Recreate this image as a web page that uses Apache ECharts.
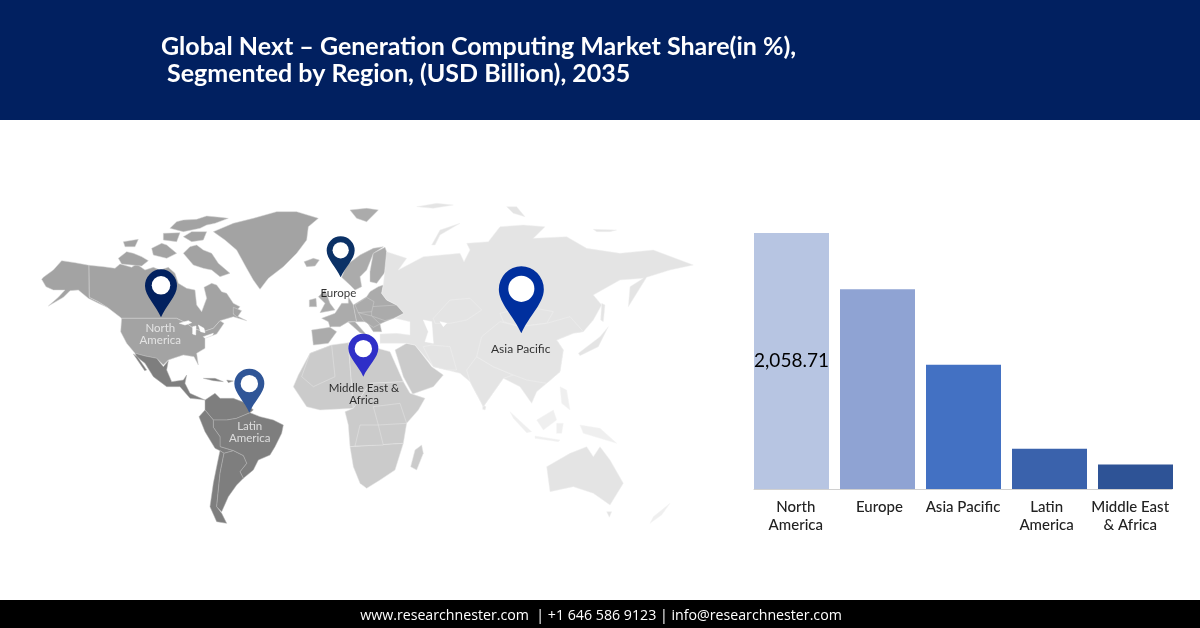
<!DOCTYPE html>
<html>
<head>
<meta charset="utf-8">
<title>Next Generation Computing Market</title>
<style>
    html, body {margin: 0; padding: 0; background: #fff;}
    #main {width: 1200px; height: 628px;}
</style>
<script src="https://cdn.jsdelivr.net/npm/echarts@6/dist/echarts.min.js"></script>
</head>
<body>
<div id="main"></div>
<script>
// bar chart data
const categories = ['North\nAmerica', 'Europe', 'Asia Pacific', 'Latin\nAmerica', 'Middle East\n& Africa'];
const marketValues = [2058.71, 1606, 1000, 324, 198];
const barColors = ['#B7C5E2', '#8FA3D3', '#4371C3', '#3A62AC', '#2E5396'];

// map markers, in the same units as the outlines below
const pinNames = ['North America', 'Europe', 'Asia Pacific', 'Latin America', 'Middle East & Africa'];
const pinTips = [[423, 382], [962, 262], [1504, 430], [688, 668], [1030, 560]];
const pinSizes = [[32, 48], [28, 41], [45, 67], [30, 44], [30, 43]];
const pinColors = ['#02215F', '#0B3166', '#002F9E', '#2F5597', '#2F2FC8'];
const mapLabels = ['North\nAmerica', 'Europe', 'Asia Pacific', 'Latin\nAmerica', 'Middle East &\nAfrica'];
const mapLabelSpots = [[421, 432], [955, 310], [1502, 477], [689, 727], [1032, 612]];
const mapLabelColors = ['#f4f4f4', '#000', '#000', '#f4f4f4', '#000'];
const mapLabelSizes = [11.5, 11.5, 12, 11.5, 11.5];

// hand traced outlines, 3 units = 1px, origin at (20,190) of the page
const northAmericaShapes = [
    [[70,262],[100,240],[125,212],[165,218],[207,226],[208,322],[235,335],[262,352],[240,342],[205,325],[175,300],[150,302],[130,322],[85,348],[115,322],[135,300],[100,300],[78,290],[65,268]],
    [[207,226],[250,230],[285,235],[300,222],[335,232],[350,222],[375,240],[400,232],[420,240],[445,232],[465,250],[475,280],[500,295],[525,300],[530,345],[545,365],[560,325],[552,292],[575,280],[590,285],[605,305],[620,310],[640,340],[660,350],[640,372],[680,392],[655,385],[640,380],[600,392],[580,415],[550,425],[520,415],[500,400],[470,385],[305,385],[262,352],[235,335],[208,322]],
    [[305,385],[470,385],[500,400],[520,415],[550,425],[580,415],[600,392],[612,400],[590,432],[555,445],[555,475],[530,490],[535,525],[522,500],[490,495],[465,503],[445,510],[430,525],[410,505],[375,498],[345,490],[320,460],[302,425]],
    [[450,115],[470,95],[490,90],[530,88],[560,78],[600,82],[625,85],[585,100],[560,105],[540,115],[490,125]],
    [[490,190],[510,170],[530,165],[550,180],[575,190],[595,220],[630,250],[600,260],[575,240],[550,235],[520,225]],
    [[395,175],[425,160],[440,165],[470,190],[440,205],[400,195]],
    [[310,155],[355,148],[345,170],[315,170]],
    [[295,205],[320,185],[340,190],[365,200],[385,212],[365,228],[305,222]],
    [[430,130],[480,128],[470,155],[430,150]],
    [[490,140],[515,125],[560,125],[550,150],[515,155]],
    [[640,352],[665,362],[652,382],[640,372]],
    [[580,125],[640,100],[700,85],[770,65],[830,65],[895,85],[865,110],[860,150],[830,190],[790,230],[745,265],[720,298],[700,270],[680,235],[650,180],[615,150]]
];
const latinAmericaShapes = [
    [[345,490],[375,498],[410,505],[430,530],[445,512],[440,540],[455,575],[490,570],[500,555],[495,580],[510,610],[555,630],[540,628],[510,625],[480,590],[440,590],[400,560],[375,520],[350,500]],
    [[340,492],[352,500],[380,540],[374,542]],
    [[550,565],[585,565],[610,575],[580,572]],
    [[620,570],[640,573],[625,578]],
    [[555,630],[585,610],[600,625],[640,625],[680,640],[700,660],[690,668],[650,685],[620,690],[580,690],[555,660]],
    [[620,690],[650,685],[690,668],[720,680],[760,690],[790,705],[785,730],[765,770],[750,795],[715,810],[700,840],[670,865],[660,845],[680,820],[670,797],[640,782],[600,770],[600,740],[580,712],[580,690]],
    [[537,680],[555,660],[580,690],[580,712],[600,740],[600,770],[640,782],[612,790],[600,782],[585,775],[555,725]],
    [[600,782],[612,790],[600,850],[590,950],[605,970],[620,1000],[590,995],[570,950],[580,880],[590,830]],
    [[612,790],[640,782],[670,797],[680,820],[660,845],[670,865],[650,885],[625,920],[605,965],[590,950],[600,850]]
];
const europeShapes = [
    [[965,262],[980,225],[1020,195],[1060,175],[1090,170],[1060,190],[1050,215],[1040,240],[1020,260],[1025,290],[1005,300],[990,285]],
    [[1060,190],[1095,172],[1105,200],[1100,240],[1070,280],[1050,275],[1050,245]],
    [[895,320],[915,300],[930,340],[945,360],[900,368],[915,340]],
    [[868,330],[888,325],[890,350],[868,350]],
    [[852,215],[880,205],[898,210],[885,228],[860,230]],
    [[875,420],[930,412],[950,425],[925,460],[880,465]],
    [[905,385],[945,370],[965,340],[985,340],[985,320],[1000,345],[1010,395],[985,395],[960,410],[935,410],[930,412],[925,395]],
    [[1000,345],[1040,320],[1050,305],[1075,290],[1090,285],[1085,310],[1100,330],[1130,345],[1152,370],[1120,385],[1095,395],[1080,402],[1085,425],[1060,425],[1040,395],[1010,395]],
    [[985,397],[1005,395],[1040,435],[1020,428]],
    [[990,60],[1040,55],[1075,60],[1040,95],[1010,85]],
    // country borders on top of the mainland
    [[1055,350],[1130,345],[1152,370],[1120,385],[1095,392],[1055,378]],
    [[1005,345],[1040,322],[1062,335],[1055,365],[1015,368]],
    [[1015,368],[1055,378],[1080,402],[1060,412],[1030,392]]
];
const africaShapes = [
    [[820,590],[835,555],[870,490],[935,465],[985,458],[1000,655],[900,660],[860,650]],
    [[985,458],[1055,470],[1110,485],[1130,530],[1150,575],[1050,580],[1000,655]],
    [[1000,655],[1050,580],[1150,575],[1170,610],[1215,625],[1195,660],[1160,700],[1150,760],[990,770],[985,705],[975,665]],
    [[990,770],[1150,760],[1125,840],[1080,870],[1040,895],[1020,880],[1000,830]],
    [[1205,765],[1210,790],[1190,840],[1172,830],[1185,780]],
    [[1125,480],[1160,460],[1185,465],[1235,530],[1270,555],[1240,590],[1178,612],[1150,560]],
    // country borders on top of the mainland
    [[870,490],[935,465],[945,560],[880,590],[845,560]],
    [[1060,650],[1140,640],[1160,700],[1075,705]],
    [[1020,705],[1075,705],[1090,765],[1005,768]]
];
const asiaShapes = [
    [[1100,185],[1160,205],[1135,240],[1210,200],[1320,190],[1332,215],[1350,180],[1340,160],[1405,155],[1440,110],[1510,105],[1575,110],[1540,145],[1640,140],[1700,175],[1800,190],[1900,180],[2020,225],[1950,240],[1880,262],[1825,350],[1830,290],[1870,265],[1800,270],[1720,315],[1745,345],[1720,390],[1690,425],[1660,430],[1610,450],[1630,480],[1620,545],[1580,580],[1550,605],[1535,640],[1500,590],[1450,565],[1390,650],[1350,575],[1320,550],[1280,540],[1240,530],[1185,465],[1160,460],[1080,460],[1080,432],[1130,430],[1170,435],[1170,395],[1125,385],[1152,370],[1130,345],[1100,330],[1085,310],[1090,285]],
    [[1675,490],[1740,440],[1765,410],[1735,470],[1680,497]],
    [[1745,340],[1755,345],[1750,395],[1742,390]],
    [[1388,645],[1398,650],[1395,660],[1388,658]],
    [[1235,165],[1260,120],[1320,100],[1260,135],[1245,165]],
    [[1190,50],[1250,40],[1300,45],[1240,55]],
    [[1460,50],[1490,50],[1515,80],[1480,70]],
    [[1720,118],[1790,120],[1770,125],[1730,125]],
    [[1580,830],[1650,790],[1700,770],[1720,800],[1740,770],[1770,810],[1810,880],[1770,945],[1720,910],[1660,890],[1590,905]],
    [[1760,965],[1775,965],[1768,982]],
    // country borders on top of the mainland
    [[1240,385],[1290,330],[1350,325],[1385,360],[1340,390],[1290,400],[1245,400]],
    [[1440,370],[1520,350],[1600,365],[1580,400],[1500,410],[1450,395]],
    [[1340,540],[1370,500],[1420,530],[1480,555],[1450,565],[1390,650],[1350,575]],
    [[1235,465],[1290,470],[1310,540],[1280,540],[1240,530],[1210,470]],
    [[1385,440],[1440,395],[1500,410],[1580,400],[1650,380],[1690,425],[1660,430],[1610,450],[1630,480],[1620,545],[1580,580],[1520,570],[1480,555],[1420,530],[1370,500]]
];
const islandShapes = [
    [[1470,665],[1535,725],[1520,728],[1480,685]],
    [[1550,690],[1600,660],[1610,690],[1570,720]],
    [[1545,738],[1620,750],[1615,755],[1545,745]],
    [[1620,590],[1640,600],[1650,660],[1625,640]],
    [[1610,700],[1630,700],[1625,730],[1610,730]],
    [[1680,705],[1740,715],[1790,760],[1740,745],[1690,730]],
    [[1950,940],[1925,975],[1890,1000],[1900,980]]
];
const waterShapes = [
    [[478,400],[505,392],[515,398],[495,405]],
    [[518,410],[528,408],[527,435],[518,432]],
    [[535,405],[552,415],[555,428],[542,425]],
    [[550,440],[580,430],[578,435],[555,445]],
    [[1210,390],[1235,395],[1240,460],[1215,455],[1225,425]],
    [[1260,395],[1280,400],[1270,410]]
];

const shapeGroups = [
    {shapes: northAmericaShapes, color: '#A3A3A3', border: '#d4d4d4'},
    {shapes: latinAmericaShapes, color: '#7E7E7E', border: '#b5b5b5'},
    {shapes: europeShapes, color: '#ABABAB', border: '#d0d0d0'},
    {shapes: africaShapes, color: '#CBCBCB', border: '#e6e6e6'},
    {shapes: asiaShapes, color: '#E4E4E4', border: '#f0f0f0'},
    {shapes: islandShapes, color: '#EFEFEF', border: '#f5f5f5'},
    {shapes: waterShapes, color: '#fff', border: '#fff'}
];

let features = [];
let regions = [];
let minX = Infinity, minY = Infinity, maxX = -Infinity, maxY = -Infinity;
shapeGroups.forEach((group, g) => {
    group.shapes.forEach((ring, i) => {
        let name = 'shape-' + g + '-' + i;
        ring.forEach(p => {
            minX = Math.min(minX, p[0]);
            maxX = Math.max(maxX, p[0]);
            minY = Math.min(minY, p[1]);
            maxY = Math.max(maxY, p[1]);
        });
        features.push({
            type: 'Feature',
            properties: {name: name},
            geometry: {type: 'Polygon', coordinates: [ring.concat([ring[0]])]}
        });
        regions.push({name: name, itemStyle: {areaColor: group.color, borderColor: group.border}});
    });
});
echarts.registerMap('regions', {type: 'FeatureCollection', features: features});

const PIN_PATH = 'path://M50 145 C35 110 0 80 0 50 A50 50 0 1 1 100 50 C100 80 65 110 50 145 Z';

const myChart = echarts.init(document.getElementById('main'), null, {renderer: 'canvas'});

let option = {
    animation: false,
    backgroundColor: '#fff',
    graphic: [
        {type: 'rect', z: 0, shape: {x: 0, y: 0, width: 1200, height: 120}, style: {fill: '#012060'}},
        {type: 'rect', z: 0, shape: {x: 0, y: 600, width: 1200, height: 28}, style: {fill: '#000'}}
    ],
    title: [
        {
            text: 'Global Next \u2013 Generation Computing Market Share(in %),\n Segmented by Region, (USD Billion), 2035',
            left: 161,
            top: 33,
            padding: 0,
            textStyle: {color: '#fff', fontFamily: 'Lato', fontSize: 25, fontWeight: 'bold', lineHeight: 27}
        },
        {
            text: 'www.researchnester.com  | +1 646 586 9123 | info@researchnester.com',
            left: 596,
            textAlign: 'center',
            top: 604,
            textStyle: {color: '#fff', fontFamily: 'Open Sans', fontSize: 14.2, fontWeight: 'normal'}
        }
    ],
    geo: {
        map: 'regions',
        projection: {
            project: p => [p[0], p[1]],
            unproject: p => [p[0], p[1]]
        },
        left: 20 + minX / 3,
        top: 190 + minY / 3,
        width: (maxX - minX) / 3,
        height: (maxY - minY) / 3,
        silent: true,
        roam: false,
        label: {show: false},
        itemStyle: {borderWidth: 0.5},
        regions: regions
    },
    // bars and the axis under them use different steps in the picture, so two grids
    grid: [
        {left: 748.5, width: 430, top: 233, height: 256},
        {left: 754, width: 418, top: 233, height: 256}
    ],
    xAxis: [
        {type: 'category', gridIndex: 0, data: categories, show: false},
        {
            type: 'category',
            gridIndex: 1,
            data: categories,
            axisTick: {show: false},
            axisLine: {lineStyle: {color: '#d0d0d0', width: 1}},
            axisLabel: {
                color: '#222',
                fontFamily: 'Lato',
                fontSize: 15,
                fontWeight: 500,
                lineHeight: 18,
                margin: 9,
                interval: 0
            }
        }
    ],
    yAxis: [
        {type: 'value', gridIndex: 0, min: 0, max: marketValues[0], show: false},
        {type: 'value', gridIndex: 1, min: 0, max: marketValues[0], show: false}
    ],
    series: [
        {
            type: 'bar',
            xAxisIndex: 0,
            yAxisIndex: 0,
            barWidth: 75,
            data: marketValues.map((value, i) => {
                let item = {value: value, itemStyle: {color: barColors[i]}};
                if (i === 0) {
                    item.label = {
                        show: true,
                        position: 'inside',
                        formatter: '2,058.71',
                        color: '#000',
                        fontFamily: 'Lato',
                        fontSize: 19
                    };
                }
                return item;
            })
        },
        {
            type: 'scatter',
            name: 'pins',
            coordinateSystem: 'geo',
            silent: true,
            z: 5,
            data: pinTips.map((tip, i) => ({
                name: pinNames[i],
                value: tip,
                symbol: PIN_PATH,
                symbolSize: pinSizes[i],
                symbolOffset: [0, -pinSizes[i][1] / 2],
                itemStyle: {color: pinColors[i], opacity: 1}
            }))
        },
        {
            type: 'scatter',
            name: 'pin holes',
            coordinateSystem: 'geo',
            silent: true,
            z: 6,
            data: pinTips.map((tip, i) => ({
                name: pinNames[i],
                value: tip,
                symbol: 'circle',
                symbolSize: pinSizes[i][0] * 0.58,
                symbolOffset: [0, -(pinSizes[i][1] - pinSizes[i][0] * 0.5)],
                itemStyle: {color: '#fff', opacity: 1}
            }))
        },
        {
            type: 'scatter',
            name: 'map labels',
            coordinateSystem: 'geo',
            silent: true,
            z: 7,
            symbolSize: 0,
            data: mapLabelSpots.map((spot, i) => ({
                value: spot,
                label: {
                    show: true,
                    position: 'inside',
                    formatter: mapLabels[i],
                    color: mapLabelColors[i],
                    fontFamily: 'Lato',
                    fontSize: mapLabelSizes[i],
                    lineHeight: 12
                }
            }))
        }
    ]
};
myChart.setOption(option, true);
</script>
</body>
</html>
